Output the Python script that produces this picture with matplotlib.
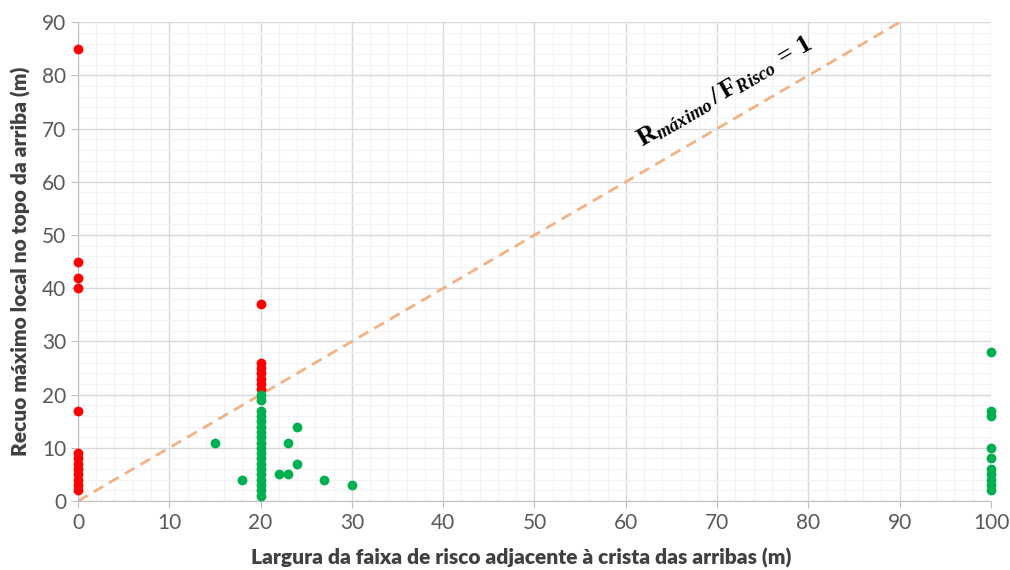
import matplotlib.pyplot as plt
from matplotlib.ticker import MultipleLocator

# faixa de risco (m) vs recuo maximo (m)
x_red = [0]*13 + [20]*7
y_red = [85, 45, 42, 40, 17, 9, 8, 7, 6, 5, 4, 3, 2,
         37, 26, 25, 24, 23, 22, 21]

x_green = [20]*19 + [15, 18, 22, 23, 23, 24, 24, 27, 30] + [100]*10
y_green = [20, 19, 17, 16, 15, 14, 13, 12, 11, 10, 9, 8, 7, 6, 5, 4, 3, 2, 1] + \
          [11, 4, 5, 5, 11, 14, 7, 4, 3] + [28, 17, 16, 10, 8, 6, 5, 4, 3, 2]

plt.rcParams['font.family'] = ['Lato', 'DejaVu Sans']
plt.rcParams['mathtext.fontset'] = 'custom'
plt.rcParams['mathtext.rm'] = 'Liberation Serif:bold'
plt.rcParams['mathtext.it'] = 'Liberation Serif:italic:bold'
plt.rcParams['mathtext.bf'] = 'Liberation Serif:bold'

fig = plt.figure(figsize=(10.1, 5.7), dpi=100)
ax = fig.add_axes([0.0772, 0.121, 0.904, 0.840])

# linha R/F = 1
ax.plot([0, 90], [0, 90], ls=(0, (4, 2.5)), color='#F4B183', lw=2, zorder=2)
ax.scatter(x_red, y_red, s=50, color='#FF0000', zorder=3, clip_on=False, linewidths=0)
ax.scatter(x_green, y_green, s=50, color='#00B050', zorder=3, clip_on=False, linewidths=0)

ax.set_xlim(0, 100)
ax.set_ylim(0, 90)
ax.xaxis.set_major_locator(MultipleLocator(10))
ax.yaxis.set_major_locator(MultipleLocator(10))
ax.xaxis.set_minor_locator(MultipleLocator(2))
ax.yaxis.set_minor_locator(MultipleLocator(2))
ax.grid(which='major', color='#D9D9D9', lw=1)
ax.grid(which='minor', color='#F2F2F2', lw=0.8)
ax.set_axisbelow(True)

for s in ['top', 'right']:
    ax.spines[s].set_visible(False)
for s in ['left', 'bottom']:
    ax.spines[s].set_color('#BFBFBF')
ax.tick_params(which='major', length=5, color='#BFBFBF', labelsize=15,
               labelcolor='#595959')
ax.tick_params(which='minor', length=0)

ax.set_xlabel('Largura da faixa de risco adjacente à crista das arribas (m)',
              fontsize=15, fontweight='heavy', color='#404040')
ax.xaxis.set_label_coords(0.485, -0.097)
ax.set_ylabel('Recuo máximo local no topo da arriba (m)',
              fontsize=15, fontweight='heavy', color='#404040', labelpad=8)

ax.text(70.8, 77, r'$\mathrm{R}_{\mathit{máximo}}\,/\,\mathrm{F}_{\mathit{Risco}}\,=\,\mathrm{1}$',
        fontsize=19, rotation=30, ha='center', va='center', color='black')

fig.savefig('out.png', dpi=100)
